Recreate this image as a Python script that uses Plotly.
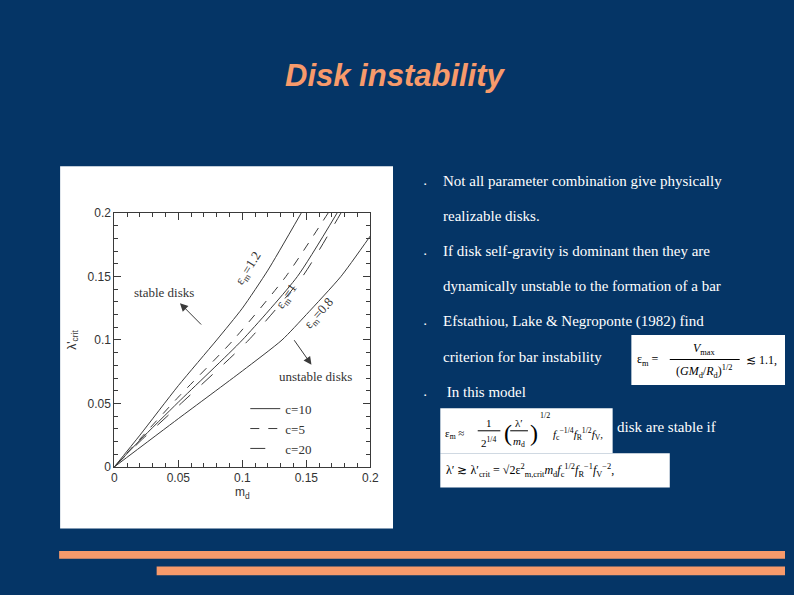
import plotly.graph_objects as go

W, H = 794, 595
NAVY = '#053566'
ORANGE = '#F79A6B'
INK = '#3a3a3a'

# courbes : m_d -> lambda'_crit
md_eps12 = [0, 0.02, 0.05, 0.08, 0.1, 0.12, 0.146]
lam_eps12 = [0, 0.025, 0.064, 0.1, 0.125, 0.155, 0.2]
md_c5 = [0, 0.02, 0.05, 0.093, 0.134, 0.167]
lam_c5 = [0, 0.022, 0.055, 0.1, 0.15, 0.2]
md_c10 = [0, 0.02, 0.05, 0.1, 0.143, 0.174]
lam_c10 = [0, 0.021, 0.051, 0.1, 0.15, 0.2]
md_c20 = [0, 0.02, 0.05, 0.105, 0.147, 0.177]
lam_c20 = [0, 0.02, 0.048, 0.1, 0.15, 0.2]
md_eps08 = [0, 0.05, 0.1, 0.131, 0.15, 0.177, 0.2]
lam_eps08 = [0, 0.038, 0.0756, 0.1, 0.12, 0.15, 0.182]

tick_vals = [0, 0.05, 0.1, 0.15, 0.2]
tick_text = ['0', '0.05', '0.1', '0.15', '0.2']

bullets = [
    'Not all parameter combination give physically',
    'realizable disks.',
    'If disk self-gravity is dominant then they are',
    'dynamically unstable to the formation of a bar',
    'Efstathiou, Lake &amp; Negroponte (1982) find',
    'criterion for bar instability',
    ' In this model',
]


def px(x):
    return x / W


def py(y):
    return 1 - y / H


fig = go.Figure()


def note(x, y, text, size=15, color='white', family='Liberation Serif',
         xanchor='left', **kw):
    fig.add_annotation(x=px(x), y=py(y), xref='paper', yref='paper',
                       text=text, showarrow=False, xanchor=xanchor,
                       yanchor='middle',
                       font=dict(size=size, color=color, family=family), **kw)


def courbe(x, y, dash, name=None, legend=False):
    fig.add_trace(go.Scatter(x=x, y=y, mode='lines', name=name,
                             showlegend=legend, hoverinfo='skip',
                             line=dict(color=INK, width=1, dash=dash,
                                       shape='spline', smoothing=0.6)))


courbe(md_c10, lam_c10, 'solid', 'c=10', True)
courbe(md_c5, lam_c5, 'dash', 'c=5', True)
courbe(md_c20, lam_c20, 'longdash', 'c=20', True)
courbe(md_eps12, lam_eps12, 'solid')
courbe(md_eps08, lam_eps08, 'solid')

axe = dict(range=[0, 0.2], tickvals=tick_vals, ticktext=tick_text,
           ticks='inside', ticklen=7, tickcolor=INK, showline=True,
           linecolor=INK, linewidth=1, mirror='ticks', showgrid=False,
           zeroline=False,
           tickfont=dict(family='Liberation Sans', size=12, color='#333'),
           minor=dict(ticks='inside', ticklen=4, dtick=0.01, tick0=0,
                      tickcolor=INK, showgrid=False))

fig.update_layout(
    width=W, height=H,
    margin=dict(l=0, r=0, t=0, b=0),
    paper_bgcolor=NAVY,
    plot_bgcolor='white',
    xaxis=dict(axe, domain=[px(113), px(373)],
               title=dict(text='m<sub>d</sub>', standoff=2,
                          font=dict(family='Liberation Sans', size=12,
                                    color='#333'))),
    yaxis=dict(axe, domain=[py(471), py(211)],
               title=dict(text="λ'<sub>crit</sub>", standoff=8,
                          font=dict(family='Liberation Sans', size=12,
                                    color='#333'))),
    legend=dict(x=px(246), y=py(396), xanchor='left', yanchor='top',
                bgcolor='rgba(0,0,0,0)',
                font=dict(family='Liberation Serif', size=13, color='#333'),
                tracegroupgap=0),
    showlegend=True,
)

# cadre blanc de l'image
fig.add_shape(type='rect', xref='paper', yref='paper', layer='below',
              x0=px(58), x1=px(396), y0=py(534), y1=py(163),
              fillcolor='white', line=dict(width=0))

# étiquettes des courbes
for x, y, txt, ang in [(0.105, 0.156, 'ε<sub>m</sub>=1.2', -58),
                       (0.135, 0.134, 'ε<sub>m</sub>=1', -55),
                       (0.160, 0.121, 'ε<sub>m</sub>=0.8', -48)]:
    fig.add_annotation(x=x, y=y, text=txt, showarrow=False, textangle=ang,
                       font=dict(family='Liberation Serif', size=13,
                                 color='#333'))

fig.add_annotation(x=0.039, y=0.1375, text='stable disks', showarrow=False,
                   font=dict(family='Liberation Serif', size=13, color='#333'))
fig.add_annotation(x=0.157, y=0.0715, text='unstable disks', showarrow=False,
                   font=dict(family='Liberation Serif', size=13, color='#333'))
fig.add_annotation(x=0.0513, y=0.129, ax=0.069, ay=0.111, axref='x',
                   ayref='y', text='', showarrow=True, arrowhead=2,
                   arrowsize=1.6, arrowwidth=1, arrowcolor=INK)
fig.add_annotation(x=0.154, y=0.0805, ax=0.1397, ay=0.101, axref='x',
                   ayref='y', text='', showarrow=True, arrowhead=2,
                   arrowsize=1.6, arrowwidth=1, arrowcolor=INK)

# titre
note(399, 70, '<b><i>Disk instability</i></b>', size=31, color=ORANGE,
     family='Liberation Sans', xanchor='center')

# puces
lignes_y = [178, 214, 250, 286, 322, 358, 394]
for i, (txt, y) in enumerate(zip(bullets, lignes_y)):
    note(445, y, txt)
    if i in (0, 2, 4, 6):
        note(425, y + 3, '▪', size=6)
note(621, 430, 'disk are stable if')

# équations (encadrés blancs)
for x0, y0, x1, y1 in [(638, 336, 794, 387), (444, 411, 619, 457),
                       (444, 457, 677, 492)]:
    fig.add_shape(type='rect', xref='paper', yref='paper',
                  x0=px(x0), x1=px(x1), y0=py(y1), y1=py(y0),
                  fillcolor='white', line=dict(width=0))


def barre(x0, x1, y):
    fig.add_shape(type='line', xref='paper', yref='paper',
                  x0=px(x0), x1=px(x1), y0=py(y), y1=py(y),
                  line=dict(color='black', width=1))


eq = dict(color='black', family='Liberation Serif')
note(642, 362, 'ε<sub>m</sub> =', size=12, **eq)
note(712, 350, '<i>V</i><sub>max</sub>', size=12, xanchor='center', **eq)
barre(677, 748, 361)
note(712, 373, '(<i>GM</i><sub>d</sub>/<i>R</i><sub>d</sub>)<sup>1/2</sup>',
     size=12, xanchor='center', **eq)
note(752, 362, '≲ 1.1,', size=12, **eq)

note(447, 437, 'ε<sub>m</sub> ≈', size=11, **eq)
note(493, 426, '1', size=11, xanchor='center', **eq)
barre(482, 505, 434)
note(493, 445, '2<sup>1/4</sup>', size=11, xanchor='center', **eq)
note(507, 436, '(', size=24, **eq)
note(524, 426, 'λ′', size=11, xanchor='center', **eq)
barre(515, 533, 434)
note(524, 445, '<i>m</i><sub>d</sub>', size=11, xanchor='center', **eq)
note(533, 436, ')', size=24, **eq)
note(543, 418, '1/2', size=8, **eq)
note(556, 437, '<i>f</i><sub>c</sub><sup>−1/4</sup><i>f</i><sub>R</sub>'
     '<sup>1/2</sup><i>f</i><sub>V</sub>,', size=11, **eq)

note(448, 475, 'λ′ ≳ λ′<sub>crit</sub> = √2ε<sup>2</sup><sub>m,crit</sub>'
     '<i>m</i><sub>d</sub><i>f</i><sub>c</sub><sup>1/2</sup><i>f</i>'
     '<sub>R</sub><sup>−1</sup><i>f</i><sub>V</sub><sup>−2</sup>,',
     size=12, **eq)

# bandes orange du bas
for x0, y0, y1 in [(57, 557, 565), (156, 573, 582)]:
    fig.add_shape(type='rect', xref='paper', yref='paper',
                  x0=px(x0), x1=1, y0=py(y1), y1=py(y0),
                  fillcolor=ORANGE, line=dict(width=0))

# pas de marge ni de barre d'outils autour de la page
fig.write_html("out.html",
               config={'displayModeBar': False},
               post_script="document.documentElement.style.overflow='hidden';"
                           "document.body.style.margin='0';"
                           "document.body.style.overflow='hidden';"
                           "document.body.style.background='" + NAVY + "';")
